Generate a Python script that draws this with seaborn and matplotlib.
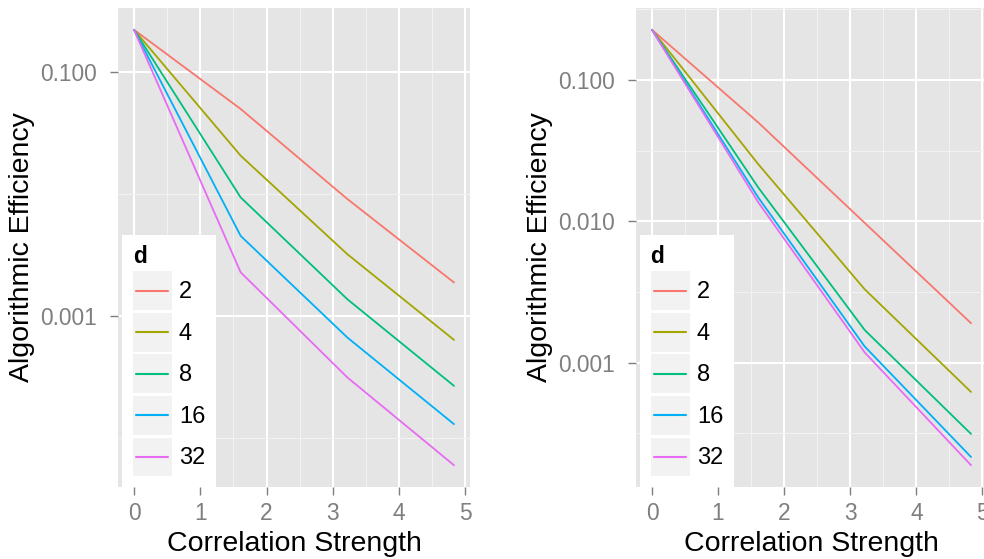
import numpy as np
import pandas as pd
import matplotlib
matplotlib.use("Agg")
import matplotlib.pyplot as plt
import seaborn as sns
from matplotlib.legend_handler import HandlerBase
from matplotlib.lines import Line2D
from matplotlib.patches import Rectangle
from matplotlib.ticker import FixedLocator, FuncFormatter, NullFormatter

# correlation strength values (ln of 1, 5, 25, 125)
strength = [0.0, 1.609, 3.219, 4.828]
dims = [2, 4, 8, 16, 32]
colors = ["#F8766D", "#A3A500", "#00BF7D", "#00B0F6", "#E76BF3"]

# left panel: efficiency per d
left_d2 = [0.224, 0.0501, 0.00912, 0.00188]
left_d4 = [0.224, 0.0207, 0.00321, 0.000635]
left_d8 = [0.224, 0.0094, 0.00137, 0.000266]
left_d16 = [0.224, 0.00454, 0.000664, 0.000129]
left_d32 = [0.224, 0.00228, 0.000312, 0.0000593]

# right panel: efficiency per d
right_d2 = [0.226, 0.0499, 0.00973, 0.0019]
right_d4 = [0.226, 0.0253, 0.0033, 0.00062]
right_d8 = [0.226, 0.0173, 0.0017, 0.000313]
right_d16 = [0.226, 0.0147, 0.0013, 0.000215]
right_d32 = [0.226, 0.0136, 0.00118, 0.000188]

left_major = [0.1, 0.001]
left_minor = [0.01, 0.0001]
right_major = [0.1, 0.01, 0.001]
right_minor = [10 ** -0.5, 10 ** -1.5, 10 ** -2.5, 10 ** -3.5]


def make_frame(series):
    rows = []
    for d, vals in zip(dims, series):
        for x, v in zip(strength, vals):
            rows.append({"strength": x, "eff": v, "d": str(d)})
    return pd.DataFrame(rows)


class KeyHandler(HandlerBase):
    """ggplot-like legend key: grey box with a short line."""
    def create_artists(self, legend, orig_handle, xdescent, ydescent,
                       width, height, fontsize, trans):
        bg = Rectangle((-xdescent, -ydescent), width, height,
                       facecolor="#F2F2F2", edgecolor="none", transform=trans)
        pad = 0.09 * width
        y = -ydescent + height / 2
        ln = Line2D([-xdescent + pad, -xdescent + width - pad], [y, y],
                    color=orig_handle.get_color(), lw=orig_handle.get_linewidth(),
                    transform=trans)
        return [bg, ln]


sns.set_style("darkgrid", {"axes.facecolor": "#E5E5E5", "grid.color": "white"})
plt.rcParams["font.family"] = ["Liberation Sans", "DejaVu Sans"]

fig = plt.figure(figsize=(9.84, 5.59), dpi=100)
ax1 = fig.add_axes([118 / 984, 72 / 559, 352 / 984, 479 / 559])
ax2 = fig.add_axes([636 / 984, 72 / 559, 351 / 984, 479 / 559])

panels = [
    (ax1, [left_d2, left_d4, left_d8, left_d16, left_d32], left_major, left_minor),
    (ax2, [right_d2, right_d4, right_d8, right_d16, right_d32], right_major, right_minor),
]

for ax, series, major, minor in panels:
    df = make_frame(series)
    sns.lineplot(data=df, x="strength", y="eff", hue="d", palette=colors,
                 hue_order=[str(d) for d in dims], ax=ax, lw=1.3, legend=False)
    ax.set_yscale("log")

    # ggplot-style 5% expansion
    lo, hi = np.log10(df["eff"].min()), np.log10(df["eff"].max())
    ex = 0.05 * (hi - lo)
    ax.set_ylim(10 ** (lo - ex), 10 ** (hi + ex))
    xr = max(strength) - min(strength)
    ax.set_xlim(min(strength) - 0.05 * xr, max(strength) + 0.05 * xr)

    ax.yaxis.set_major_locator(FixedLocator(major))
    ax.yaxis.set_minor_locator(FixedLocator(minor))
    ax.yaxis.set_major_formatter(FuncFormatter(lambda v, p: f"{v:.3f}"))
    ax.yaxis.set_minor_formatter(NullFormatter())
    ax.xaxis.set_major_locator(FixedLocator([0, 1, 2, 3, 4, 5]))
    ax.xaxis.set_minor_locator(FixedLocator([0.5, 1.5, 2.5, 3.5, 4.5]))
    ax.xaxis.set_minor_formatter(NullFormatter())

    ax.grid(which="major", color="white", lw=1.5)
    ax.grid(which="minor", color="#F2F2F2", lw=0.8)
    for s in ax.spines.values():
        s.set_visible(False)
    ax.tick_params(which="major", length=5.8, width=1.0, color="#7F7F7F",
                   labelcolor="#7F7F7F", labelsize=16.4)
    ax.tick_params(axis="x", which="major", pad=5, bottom=True)
    ax.tick_params(axis="y", which="major", pad=9.5, left=True)
    ax.tick_params(which="minor", length=0)

    ax.set_xlabel("Correlation Strength", fontsize=20.5, labelpad=4, color="black")
    ax.set_ylabel("Algorithmic Efficiency", fontsize=20.5, labelpad=3.5, color="black")

    handles = [Line2D([], [], color=c, lw=1.5) for c in colors]
    leg = ax.legend(handles, [str(d) for d in dims], title="d",
                    handler_map={Line2D: KeyHandler()},
                    loc="lower left", bbox_to_anchor=(4 / 352, 0),
                    borderaxespad=0, frameon=True, fancybox=False,
                    facecolor="white", edgecolor="white", framealpha=1,
                    fontsize=17, handlelength=1.66, handleheight=2.15,
                    labelspacing=0.12, handletextpad=0.3, borderpad=0.45,
                    alignment="left",
                    title_fontproperties={"weight": "bold", "size": 16.4})
    leg.get_title().set_color("black")
    for t in leg.get_texts():
        t.set_color("black")
    leg.get_frame().set_linewidth(0)

fig.savefig("out.png", dpi=100)
